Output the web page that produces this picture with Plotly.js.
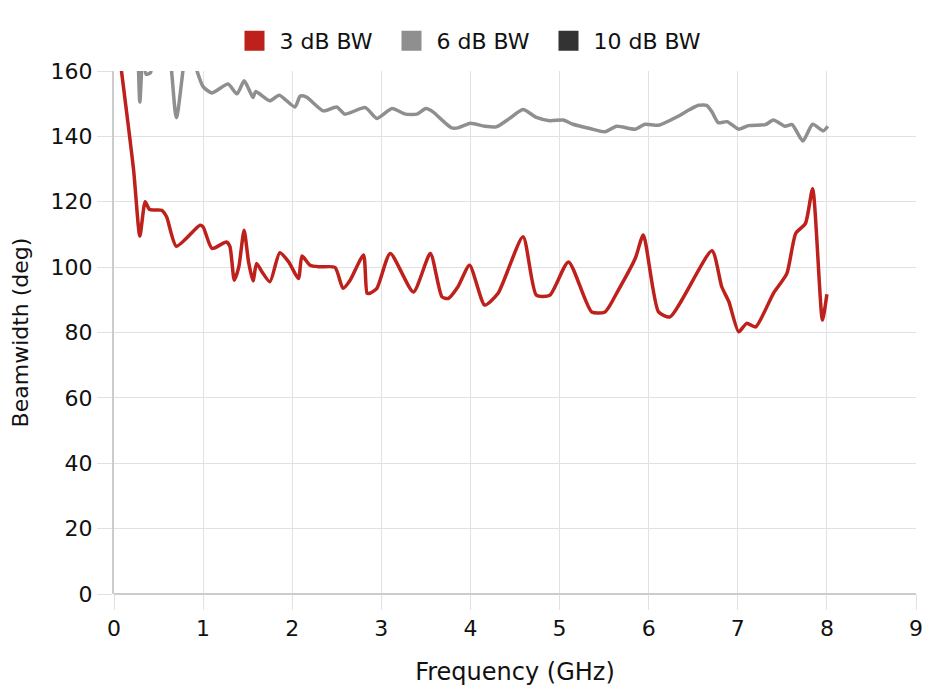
<!DOCTYPE html>
<html>
<head>
<meta charset="utf-8">
<script src="https://cdn.plot.ly/plotly-3.0.1.min.js"></script>
<style>
html,body{margin:0;padding:0;background:#fff;}
#chart{width:930px;height:696px;}
</style>
</head>
<body>
<div id="chart"></div>
<script>
// Series names
const seriesNames = ["3 dB BW", "6 dB BW", "10 dB BW"];
const seriesColors = ["#be201c", "#8f8f8f", "#333333"];

// 3 dB beamwidth (frequency GHz, degrees)
const freq3dB = [0.07, 0.22, 0.29, 0.35, 0.40, 0.535, 0.59, 0.70, 0.965, 1.0, 1.10, 1.26, 1.30, 1.35, 1.40, 1.46, 1.51, 1.56, 1.60, 1.66, 1.75, 1.86, 1.96, 2.07, 2.11, 2.20, 2.31, 2.48, 2.57, 2.65, 2.80, 2.84, 2.87, 2.95, 3.10, 3.36, 3.55, 3.68, 3.75, 3.86, 3.99, 4.16, 4.31, 4.59, 4.74, 4.89, 5.10, 5.36, 5.51, 5.66, 5.85, 5.94, 6.11, 6.24, 6.71, 6.82, 6.90, 7.01, 7.10, 7.20, 7.40, 7.55, 7.65, 7.76, 7.84, 7.95, 8.0];
const bw3dB = [163, 129.7, 109.5, 120, 117.6, 117.4, 115.4, 106.4, 112.8, 112.3, 105.7, 107.7, 106.4, 96, 100, 111.3, 101.6, 95.8, 101.1, 98.6, 95.5, 104.4, 101.6, 96.5, 103.4, 100.6, 100.1, 99.9, 93.5, 96, 103.7, 92, 92, 93.5, 104.2, 92.4, 104.2, 90.9, 90.4, 94, 100.6, 88.4, 92, 109.3, 91.4, 91.4, 101.6, 86.3, 86.3, 93, 102.7, 109.8, 86.3, 84.8, 105, 94, 89.4, 80.2, 82.8, 81.7, 92, 98, 110.3, 113.4, 124, 83.8, 91.7];

// 6 dB beamwidth (frequency GHz, degrees)
const freq6dB = [0.26, 0.29, 0.325, 0.36, 0.41, 0.46, 0.58, 0.70, 0.83, 0.92, 1.0, 1.10, 1.28, 1.38, 1.46, 1.51, 1.56, 1.59, 1.75, 1.855, 2.03, 2.09, 2.16, 2.35, 2.50, 2.59, 2.82, 2.95, 3.12, 3.27, 3.40, 3.50, 3.58, 3.70, 3.79, 3.86, 4.0, 4.16, 4.29, 4.44, 4.59, 4.74, 4.89, 5.04, 5.15, 5.34, 5.51, 5.64, 5.85, 5.96, 6.11, 6.32, 6.46, 6.56, 6.65, 6.71, 6.78, 6.88, 7.01, 7.12, 7.31, 7.40, 7.53, 7.61, 7.73, 7.84, 7.96, 8.01];
const bw6dB = [178, 150.5, 166, 159, 159.5, 172, 172, 145.7, 170, 161, 155.2, 153.3, 156, 153, 157, 154.6, 151.9, 153.7, 150.9, 152.6, 149, 152.3, 152, 147.8, 149, 146.8, 148.8, 145.5, 148.5, 146.8, 146.8, 148.5, 147.5, 144.5, 142.6, 142.6, 144, 143.1, 142.9, 145.5, 148.2, 145.8, 144.8, 145, 143.7, 142.4, 141.4, 143.1, 142.2, 143.7, 143.4, 146, 148.2, 149.5, 149.5, 147.5, 144.2, 144.5, 142.2, 143.3, 143.6, 145, 143.1, 143.6, 138.6, 143.7, 141.7, 143.1];

// 10 dB beamwidth: no values visible within the 0-160 range
const freq10dB = [];
const bw10dB = [];

const xTicks = [0, 1, 2, 3, 4, 5, 6, 7, 8, 9];
const yTicks = [0, 20, 40, 60, 80, 100, 120, 140, 160];

const FONT = "'DejaVu Sans', 'Noto Sans', sans-serif";

const dataX = [freq3dB, freq6dB, freq10dB];
const dataY = [bw3dB, bw6dB, bw10dB];

const traces = [];
// drawn lines
for (let i = 0; i < 3; i++) {
  traces.push({
    x: dataX[i], y: dataY[i], type: 'scatter', mode: 'lines',
    name: seriesNames[i], showlegend: false, legendgroup: 'g' + i,
    line: {color: seriesColors[i], width: 3.5, shape: 'spline', smoothing: 0.6},
    hoverinfo: 'skip'
  });
}
// legend entries (square swatches)
for (let i = 0; i < 3; i++) {
  traces.push({
    x: [null], y: [null], type: 'scatter', mode: 'markers',
    name: seriesNames[i], showlegend: true, legendgroup: 'g' + i,
    marker: {symbol: 'square', size: 16, color: seriesColors[i], line: {color: seriesColors[i], width: 4}}
  });
}

const layout = {
  width: 930, height: 696,
  paper_bgcolor: '#ffffff', plot_bgcolor: '#ffffff',
  margin: {l: 114, r: 14, t: 71, b: 102},
  font: {family: FONT, color: '#111111', size: 18},
  showlegend: true,
  legend: {
    orientation: 'h', xref: 'container', yref: 'container',
    x: 0.5, xanchor: 'center', y: 1 - 41/696, yanchor: 'middle',
    font: {family: FONT, size: 22, color: '#111111'},
    itemwidth: 40, entrywidth: 102, entrywidthmode: 'pixels',
    traceorder: 'normal'
  },
  xaxis: {
    range: [0, 9], tickvals: xTicks, ticktext: xTicks.map(String),
    showgrid: true, gridcolor: '#e1e1e1', gridwidth: 1,
    zeroline: false, showline: false,
    ticks: 'outside', ticklen: 15, tickcolor: '#e1e1e1', tickwidth: 1,
    tickfont: {family: FONT, size: 22, color: '#111111'},
    title: {text: 'Frequency (GHz)', font: {family: FONT, size: 24, color: '#111111'}, standoff: 22},
    fixedrange: true
  },
  yaxis: {
    range: [0, 160], tickvals: yTicks, ticktext: yTicks.map(String),
    showgrid: true, gridcolor: '#e1e1e1', gridwidth: 1,
    zeroline: true, zerolinecolor: '#cccccc', zerolinewidth: 2,
    showline: true, linecolor: '#cccccc', linewidth: 2,
    ticks: 'outside', ticklen: 15, tickcolor: '#e1e1e1', tickwidth: 1,
    tickfont: {family: FONT, size: 22, color: '#111111'},
    title: {text: 'Beamwidth (deg)', font: {family: FONT, size: 22, color: '#111111'}, standoff: 16},
    fixedrange: true
  }
};

Plotly.newPlot('chart', traces, layout, {displayModeBar: false, staticPlot: true});
</script>
</body>
</html>
